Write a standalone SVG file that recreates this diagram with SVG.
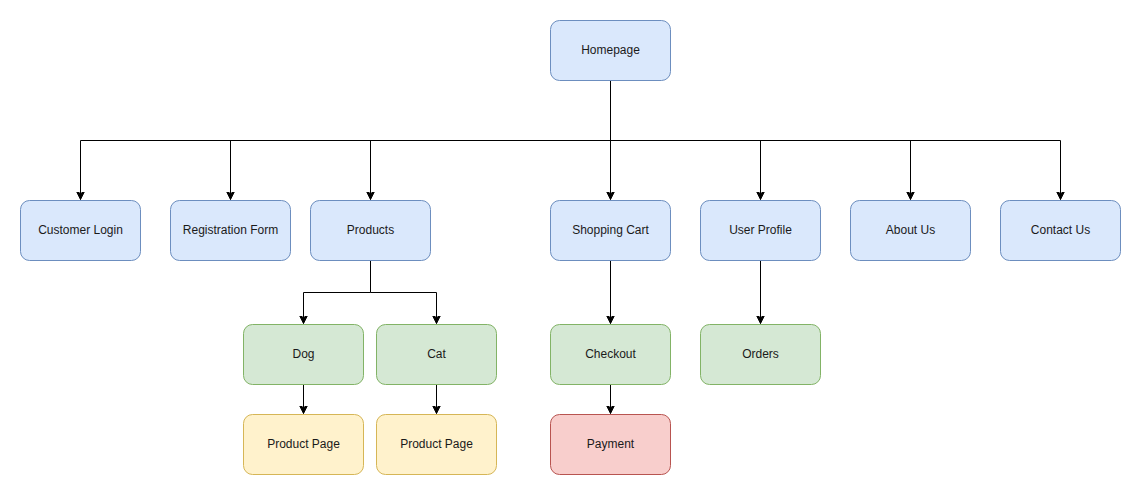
<svg xmlns="http://www.w3.org/2000/svg" width="1141" height="495" viewBox="0 0 1141 495">
<style>
.n rect{stroke-width:1}
.b rect{fill:#dae8fc;stroke:#6c8ebf}
.g rect{fill:#d5e8d4;stroke:#82b366}
.y rect{fill:#fff2cc;stroke:#d6b656}
.r rect{fill:#f8cecc;stroke:#b85450}
text{font-family:"Liberation Sans",Arial,sans-serif;font-size:12px;fill:#1a1a1a;text-anchor:middle;dominant-baseline:central}
.e path{fill:none;stroke:#000;stroke-width:1;marker-end:url(#a)}
</style>
<defs>
<marker id="a" markerWidth="10" markerHeight="10" refX="8" refY="4" orient="auto" markerUnits="userSpaceOnUse" viewBox="0 0 10 8">
<path d="M0,0 L8,4 L0,8 L2,4 Z" fill="#000" stroke="#000" stroke-width="1"/>
</marker>
</defs>
<g class="e" id="connectors">
<path d="M610.5,80.5 V140.5 H80.5 V199.5"/>
<path d="M610.5,140.5 H230.5 V199.5"/>
<path d="M610.5,140.5 H370.5 V199.5"/>
<path d="M610.5,80.5 V199.5"/>
<path d="M610.5,140.5 H760.5 V199.5"/>
<path d="M610.5,140.5 H910.5 V199.5"/>
<path d="M610.5,140.5 H1060.5 V199.5"/>
<path d="M370.5,260.5 V292.5 H303.5 V323.5"/>
<path d="M370.5,292.5 H436.5 V323.5"/>
<path d="M610.5,260.5 V323.5"/>
<path d="M760.5,260.5 V323.5"/>
<path d="M303.5,384.5 V413.5"/>
<path d="M436.5,384.5 V413.5"/>
<path d="M610.5,384.5 V413.5"/>
</g>
<g id="homepage" class="n b"><rect x="550.5" y="20.5" width="120" height="60" rx="9"/><text x="610.5" y="49.5">Homepage</text></g>
<g id="customer-login" class="n b"><rect x="20.5" y="200.5" width="120" height="60" rx="9"/><text x="80.5" y="229.5">Customer Login</text></g>
<g id="registration-form" class="n b"><rect x="170.5" y="200.5" width="120" height="60" rx="9"/><text x="230.5" y="229.5">Registration Form</text></g>
<g id="products" class="n b"><rect x="310.5" y="200.5" width="120" height="60" rx="9"/><text x="370.5" y="229.5">Products</text></g>
<g id="shopping-cart" class="n b"><rect x="550.5" y="200.5" width="120" height="60" rx="9"/><text x="610.5" y="229.5">Shopping Cart</text></g>
<g id="user-profile" class="n b"><rect x="700.5" y="200.5" width="120" height="60" rx="9"/><text x="760.5" y="229.5">User Profile</text></g>
<g id="about-us" class="n b"><rect x="850.5" y="200.5" width="120" height="60" rx="9"/><text x="910.5" y="229.5">About Us</text></g>
<g id="contact-us" class="n b"><rect x="1000.5" y="200.5" width="120" height="60" rx="9"/><text x="1060.5" y="229.5">Contact Us</text></g>
<g id="dog" class="n g"><rect x="243.5" y="324.5" width="120" height="60" rx="9"/><text x="303.5" y="353.5">Dog</text></g>
<g id="cat" class="n g"><rect x="376.5" y="324.5" width="120" height="60" rx="9"/><text x="436.5" y="353.5">Cat</text></g>
<g id="checkout" class="n g"><rect x="550.5" y="324.5" width="120" height="60" rx="9"/><text x="610.5" y="353.5">Checkout</text></g>
<g id="orders" class="n g"><rect x="700.5" y="324.5" width="120" height="60" rx="9"/><text x="760.5" y="353.5">Orders</text></g>
<g id="product-page-dog" class="n y"><rect x="243.5" y="414.5" width="120" height="60" rx="9"/><text x="303.5" y="443.5">Product Page</text></g>
<g id="product-page-cat" class="n y"><rect x="376.5" y="414.5" width="120" height="60" rx="9"/><text x="436.5" y="443.5">Product Page</text></g>
<g id="payment" class="n r"><rect x="550.5" y="414.5" width="120" height="60" rx="9"/><text x="610.5" y="443.5">Payment</text></g>
</svg>
